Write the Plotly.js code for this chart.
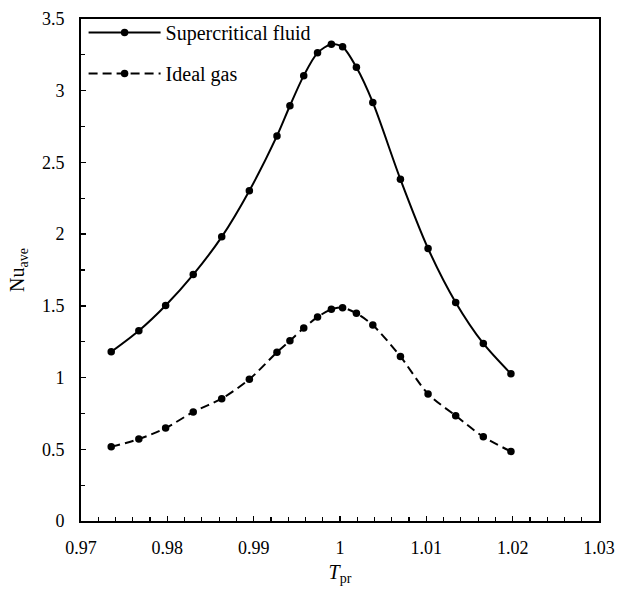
<!DOCTYPE html>
<html>
<head>
<meta charset="utf-8">
<script src="https://cdn.plot.ly/plotly-3.0.1.min.js"></script>
<style>html,body{margin:0;padding:0;background:#fff;}</style>
</head>
<body>
<div id="chart" style="width:618px;height:590px;"></div>
<script>
var tpr = [0.9735, 0.9767, 0.9798, 0.9830, 0.9863, 0.9895, 0.9927, 0.9942, 0.9958, 0.9974, 0.9990, 1.0003, 1.0019, 1.0038, 1.0070, 1.0102, 1.0134, 1.0166, 1.0198];
var nuSupercritical = [1.18, 1.327, 1.503, 1.718, 1.981, 2.303, 2.685, 2.895, 3.105, 3.264, 3.324, 3.306, 3.163, 2.918, 2.382, 1.900, 1.524, 1.238, 1.026];
var nuIdealGas = [0.517, 0.571, 0.648, 0.760, 0.853, 0.988, 1.177, 1.257, 1.345, 1.422, 1.476, 1.487, 1.448, 1.366, 1.147, 0.886, 0.734, 0.587, 0.485];
var seriesNames = ['Supercritical fluid', 'Ideal gas'];
var xTitle = '<i>T</i><sub>pr</sub>';
var yTitle = 'Nu<sub>ave</sub>';

var font = "'Liberation Serif', 'Times New Roman', serif";
var traces = [
  {x: tpr, y: nuSupercritical, name: seriesNames[0], legendgroup: 'a', type: 'scatter', mode: 'lines+markers',
   line: {color: '#000', width: 2, shape: 'spline', smoothing: 0.8}, marker: {color: '#000', size: 7.5}},
  {x: tpr, y: nuIdealGas, name: seriesNames[1], legendgroup: 'b', type: 'scatter', mode: 'lines+markers',
   line: {color: '#000', width: 2, shape: 'spline', smoothing: 0.8, dash: '9px,5px'}, marker: {color: '#000', size: 7.5}}
];
var axisCommon = {
  showline: true, linecolor: '#000', linewidth: 2, mirror: true,
  showgrid: false, zeroline: false, ticks: 'inside', ticklen: 5, tickwidth: 1.5, tickcolor: '#000',
  tickfont: {family: font, size: 18, color: '#000'}
};
var layout = {
  width: 618, height: 590,
  margin: {l: 81, r: 19, t: 19, b: 69},
  paper_bgcolor: '#fff', plot_bgcolor: '#fff',
  font: {family: font, color: '#000'},
  showlegend: true,
  legend: {x: 0.005, y: 1.012, xanchor: 'left', yanchor: 'top', bgcolor: 'rgba(0,0,0,0)',
           font: {family: font, size: 20, color: '#000'}, itemwidth: 72, traceorder: 'grouped', tracegroupgap: 12},
  xaxis: Object.assign({}, axisCommon, {
    range: [0.97, 1.03], dtick: 0.01, tick0: 0.97, ticklabelstandoff: 9,
    minor: {dtick: 0.002, ticks: 'inside', ticklen: 4, tickcolor: '#000', tickwidth: 1.2},
    title: {text: xTitle, font: {family: font, size: 20, color: '#000'}, standoff: 8}
  }),
  yaxis: Object.assign({}, axisCommon, {
    range: [0, 3.5], dtick: 0.5, tick0: 0, ticklabelstandoff: 11,
    minor: {dtick: 0.25, ticks: 'inside', ticklen: 4, tickcolor: '#000', tickwidth: 1.2},
    title: {text: yTitle, font: {family: font, size: 20, color: '#000'}, standoff: 12}
  })
};
Plotly.newPlot('chart', traces, layout, {displayModeBar: false, staticPlot: true});
</script>
</body>
</html>
